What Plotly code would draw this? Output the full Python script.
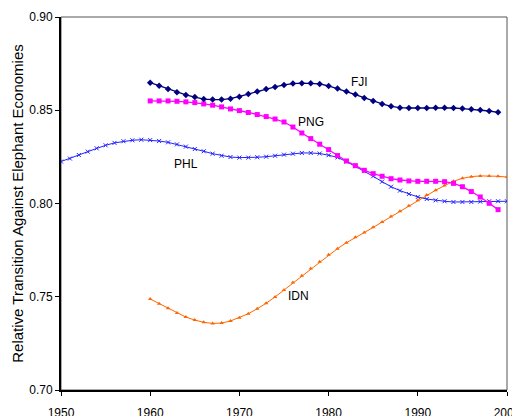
import plotly.graph_objects as go

years_fji = list(range(1960, 2000))
fji = [0.8648, 0.8632, 0.8614, 0.8596, 0.8582, 0.8571, 0.8560, 0.8557, 0.8557, 0.8562,
       0.8573, 0.8587, 0.8600, 0.8614, 0.8625, 0.8636, 0.8643, 0.8645, 0.8645, 0.8641,
       0.8630, 0.8617, 0.8600, 0.8584, 0.8566, 0.8550, 0.8534, 0.8521, 0.8514, 0.8512,
       0.8512, 0.8512, 0.8514, 0.8514, 0.8512, 0.8509, 0.8505, 0.8502, 0.8496, 0.8489]

years_png = list(range(1960, 2000))
png = [0.8550, 0.8550, 0.8550, 0.8548, 0.8545, 0.8541, 0.8534, 0.8527, 0.8518, 0.8507,
       0.8498, 0.8488, 0.8477, 0.8466, 0.8453, 0.8437, 0.8410, 0.8378, 0.8348, 0.8318,
       0.8289, 0.8257, 0.8228, 0.8203, 0.8178, 0.8160, 0.8146, 0.8133, 0.8126, 0.8121,
       0.8119, 0.8119, 0.8119, 0.8117, 0.8108, 0.8090, 0.8064, 0.8035, 0.8001, 0.7967]

years_phl = list(range(1950, 2001))
phl = [0.8225, 0.8241, 0.8260, 0.8278, 0.8296, 0.8312, 0.8325, 0.8334, 0.8339, 0.8342,
       0.8340, 0.8335, 0.8328, 0.8317, 0.8305, 0.8292, 0.8280, 0.8267, 0.8256, 0.8249,
       0.8246, 0.8246, 0.8248, 0.8251, 0.8256, 0.8262, 0.8267, 0.8271, 0.8271, 0.8268,
       0.8259, 0.8247, 0.8225, 0.8200, 0.8174, 0.8146, 0.8117, 0.8090, 0.8069, 0.8051,
       0.8035, 0.8024, 0.8017, 0.8012, 0.8008, 0.8008, 0.8008, 0.8010, 0.8012, 0.8012,
       0.8012]

years_idn = list(range(1960, 2001))
idn = [0.7488, 0.7463, 0.7438, 0.7413, 0.7391, 0.7375, 0.7363, 0.7357, 0.7359, 0.7370,
       0.7388, 0.7409, 0.7436, 0.7465, 0.7499, 0.7536, 0.7576, 0.7613, 0.7651, 0.7687,
       0.7725, 0.7758, 0.7790, 0.7819, 0.7844, 0.7872, 0.7901, 0.7930, 0.7958, 0.7988,
       0.8017, 0.8046, 0.8071, 0.8096, 0.8119, 0.8135, 0.8144, 0.8148, 0.8148, 0.8146,
       0.8142]

label_names = ["FJI", "PNG", "PHL", "IDN"]
label_x = [1983.5, 1978.0, 1964.0, 1976.6]
label_y = [0.8651, 0.8437, 0.8212, 0.7504]

x_ticks = [1950, 1960, 1970, 1980, 1990, 2000]
y_ticks = [0.70, 0.75, 0.80, 0.85, 0.90]

fig = go.Figure()
fig.add_trace(go.Scatter(x=years_phl, y=phl, mode="lines+markers", name="PHL",
                         line=dict(color="#2222FF", width=1),
                         marker=dict(symbol="x-thin-open", size=4, color="#2222FF",
                                     line=dict(width=1, color="#2222FF"))))
fig.add_trace(go.Scatter(x=years_idn, y=idn, mode="lines+markers", name="IDN",
                         line=dict(color="#FF6600", width=1),
                         marker=dict(symbol="triangle-up", size=4, color="#FF6600")))
fig.add_trace(go.Scatter(x=years_png, y=png, mode="lines+markers", name="PNG",
                         line=dict(color="#FF00FF", width=1.3),
                         marker=dict(symbol="square", size=5, color="#FF00FF")))
fig.add_trace(go.Scatter(x=years_fji, y=fji, mode="lines+markers", name="FJI",
                         line=dict(color="#000080", width=1.3),
                         marker=dict(symbol="diamond", size=5, color="#000080")))

for name, lx, ly in zip(label_names, label_x, label_y):
    fig.add_annotation(x=lx, y=ly, text=name, showarrow=False,
                       font=dict(family="Liberation Sans, Arial", size=12, color="#000000"))

fig.add_shape(type="rect", xref="paper", yref="paper", x0=0, x1=1, y0=0, y1=1,
              line=dict(color="#555555", width=1), layer="below")

fig.update_layout(
    width=520, height=416,
    margin=dict(l=53, r=20.5, t=9, b=34),
    paper_bgcolor="white", plot_bgcolor="white",
    showlegend=False,
    font=dict(family="Liberation Sans, Arial", size=12, color="#000000"),
    xaxis=dict(range=[1950, 2000], tickvals=x_ticks, ticktext=[str(v) for v in x_ticks],
               showgrid=False, zeroline=False, showline=True, linecolor="black", linewidth=2,
               ticks="outside", ticklen=4, tickcolor="black", tickwidth=1,
               ticklabelstandoff=7, ticklabeloverflow="allow", automargin=False),
    yaxis=dict(range=[0.70, 0.90], tickvals=y_ticks, ticktext=["%.2f" % v for v in y_ticks],
               showgrid=False, zeroline=False, showline=True, linecolor="black", linewidth=2,
               ticks="outside", ticklen=4, tickcolor="black", tickwidth=1, automargin=False,
               title=dict(text="Relative Transition Against Elephant Economies",
                          font=dict(size=15), standoff=2)),
)

fig.write_html("out.html")
